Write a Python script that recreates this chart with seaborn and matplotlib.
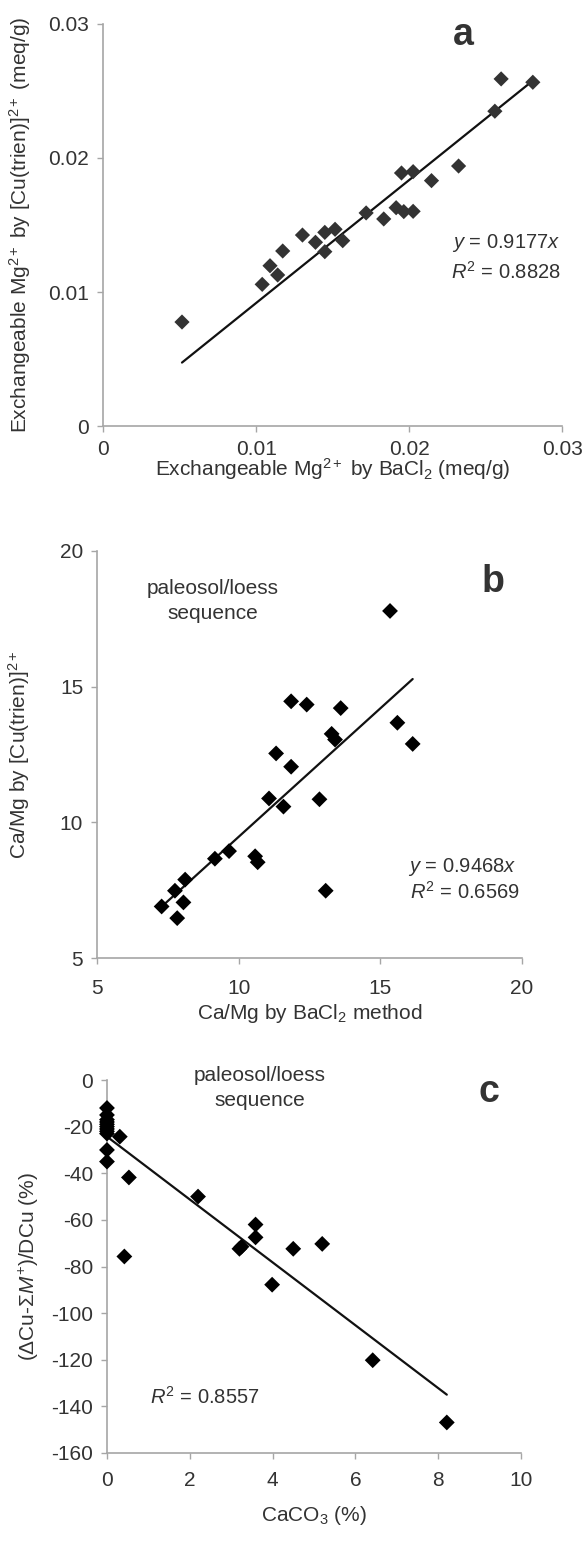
import numpy as np
import pandas as pd
import matplotlib
matplotlib.use("Agg")
import matplotlib.pyplot as plt
import seaborn as sns

# ---------------- data ----------------
a_x = [0.00516, 0.0104, 0.01091, 0.01141, 0.01174, 0.01303, 0.01388, 0.01449, 0.01449,
       0.01516, 0.01566, 0.01719, 0.01834, 0.01915, 0.0195, 0.01965, 0.02026, 0.02026,
       0.02146, 0.02323, 0.0256, 0.02601, 0.02808]
a_y = [0.00776, 0.01057, 0.01196, 0.01127, 0.01306, 0.01425, 0.01371, 0.01445, 0.01301,
       0.01468, 0.01383, 0.0159, 0.01545, 0.01629, 0.01888, 0.016, 0.01898, 0.01602,
       0.01831, 0.0194, 0.02349, 0.0259, 0.02565]
a_slope = 0.9177
a_r2 = 0.8828

b_x = [15.34, 11.85, 12.40, 13.6, 15.6, 16.14, 13.28, 13.4, 11.32, 11.85, 11.07, 11.58,
       12.85, 13.07, 10.58, 10.67, 9.66, 9.16, 8.11, 7.75, 8.05, 7.28, 7.83]
b_y = [17.79, 14.46, 14.34, 14.21, 13.67, 12.89, 13.26, 13.05, 12.54, 12.05, 10.88, 10.58,
       10.85, 7.48, 8.75, 8.53, 8.94, 8.66, 7.89, 7.48, 7.05, 6.9, 6.47]
b_slope = 0.9468
b_r2 = 0.6569

c_x = [0, 0, 0, 0, 0, 0, 0, 0, 0, 0, 0,
       0.31, 0.53, 0.42, 2.2, 3.2, 3.25, 3.59, 3.59, 4.5, 5.2, 3.99, 6.42, 8.21]
c_y = [-12, -15, -17, -18, -19, -20, -21, -22, -23, -30, -35,
       -24.3, -41.8, -75.7, -50, -72.4, -71.5, -62, -67.5, -72.4, -70.3, -87.8, -120.2, -146.9]
c_r2 = 0.8557

a_ticks = [0, 0.01, 0.02, 0.03]
a_ticklabels = ["0", "0.01", "0.02", "0.03"]
b_ticks = [5, 10, 15, 20]
b_ticklabels = ["5", "10", "15", "20"]
c_xticks = [0, 2, 4, 6, 8, 10]
c_xticklabels = ["0", "2", "4", "6", "8", "10"]
c_yticks = [0, -20, -40, -60, -80, -100, -120, -140, -160]
c_yticklabels = ["0", "-20", "-40", "-60", "-80", "-100", "-120", "-140", "-160"]

# ---------------- style ----------------
sns.set_style("white")
plt.rcParams['font.family'] = ['Liberation Sans', 'DejaVu Sans']
plt.rcParams['mathtext.fontset'] = 'custom'
plt.rcParams['mathtext.rm'] = 'Liberation Sans'
plt.rcParams['mathtext.it'] = 'Liberation Sans:italic'
plt.rcParams['mathtext.bf'] = 'Liberation Sans:bold'

TXT = "#333333"
AX = "#a6a6a6"
FS = 15
AFS = 14.5
LFS = 27

fig = plt.figure(figsize=(5.82, 15.56), dpi=100)
ax_a = fig.add_axes([0.177, 0.7262, 0.789, 0.2584])
ax_b = fig.add_axes([0.1667, 0.3843, 0.7303, 0.2616])
ax_c = fig.add_axes([0.1838, 0.0662, 0.7112, 0.2397])


def style(ax, xpad=6):
    for s in ["top", "right"]:
        ax.spines[s].set_visible(False)
    for s in ["left", "bottom"]:
        ax.spines[s].set_color(AX)
        ax.spines[s].set_linewidth(1.2)
    ax.tick_params(axis="both", direction="out", length=4, width=1.0, color=AX,
                   labelsize=FS, labelcolor=TXT, pad=6, left=True, bottom=True)
    ax.tick_params(axis="x", pad=xpad)
    ax.grid(False)


# ---- panel a ----
df_a = pd.DataFrame({"x": a_x, "y": a_y})
sns.scatterplot(data=df_a, x="x", y="y", marker="D", s=60, color="#333333",
                edgecolor="none", ax=ax_a, zorder=3)
xa = np.array([min(a_x), max(a_x)])
sns.lineplot(x=xa, y=a_slope * xa, color="#111111", linewidth=1.6, ax=ax_a, zorder=2)
ax_a.set_xlim(0, 0.03)
ax_a.set_ylim(0, 0.03)
ax_a.set_xticks(a_ticks, a_ticklabels)
ax_a.set_yticks(a_ticks, a_ticklabels)
style(ax_a)
ax_a.set_xlabel(r"Exchangeable Mg$^{2+}$ by BaCl$_{2}$ (meq/g)", fontsize=FS, color=TXT, labelpad=-2)
ax_a.set_ylabel(r"Exchangeable Mg$^{2+}$ by [Cu(trien)]$^{2+}$ (meq/g)", fontsize=FS, color=TXT, labelpad=11)
ax_a.text(0.784, 0.973, "a", transform=ax_a.transAxes, fontsize=LFS, fontweight="bold",
          color=TXT, ha="center", va="center")
ax_a.text(0.877, 0.455, r"$\mathit{y}$ = %.4f$\mathit{x}$" % a_slope, transform=ax_a.transAxes,
          fontsize=AFS, color=TXT, ha="center", va="center")
ax_a.text(0.877, 0.383, r"$\mathit{R}^{2}$ = %.4f" % a_r2, transform=ax_a.transAxes,
          fontsize=AFS, color=TXT, ha="center", va="center")

# ---- panel b ----
df_b = pd.DataFrame({"x": b_x, "y": b_y})
sns.scatterplot(data=df_b, x="x", y="y", marker="D", s=65, color="black",
                edgecolor="none", ax=ax_b, zorder=3)
xb = np.array([min(b_x), max(b_x)])
sns.lineplot(x=xb, y=b_slope * xb, color="#111111", linewidth=1.6, ax=ax_b, zorder=2)
ax_b.set_xlim(5, 20)
ax_b.set_ylim(5, 20)
ax_b.set_xticks(b_ticks, b_ticklabels)
ax_b.set_yticks(b_ticks, b_ticklabels)
style(ax_b, xpad=11)
ax_b.set_xlabel(r"Ca/Mg by BaCl$_{2}$ method", fontsize=FS, color=TXT, labelpad=3)
ax_b.set_ylabel(r"Ca/Mg by [Cu(trien)]$^{2+}$", fontsize=FS, color=TXT, labelpad=20)
ax_b.text(0.932, 0.924, "b", transform=ax_b.transAxes, fontsize=LFS, fontweight="bold",
          color=TXT, ha="center", va="center")
ax_b.text(0.273, 0.876, "paleosol/loess\nsequence", transform=ax_b.transAxes,
          fontsize=FS, color=TXT, ha="center", va="center", linespacing=1.4)
ax_b.text(0.86, 0.224, r"$\mathit{y}$ = %.4f$\mathit{x}$" % b_slope, transform=ax_b.transAxes,
          fontsize=AFS, color=TXT, ha="center", va="center")
ax_b.text(0.866, 0.162, r"$\mathit{R}^{2}$ = %.4f" % b_r2, transform=ax_b.transAxes,
          fontsize=AFS, color=TXT, ha="center", va="center")

# ---- panel c ----
df_c = pd.DataFrame({"x": c_x, "y": c_y})
sns.regplot(data=df_c, x="x", y="y", ci=None, truncate=True, ax=ax_c, marker="D",
            scatter_kws=dict(s=65, color="black", edgecolor="none", alpha=1.0,
                             zorder=3, clip_on=False),
            line_kws=dict(color="#111111", linewidth=1.6, zorder=2))
ax_c.set_xlim(0, 10)
ax_c.set_ylim(-160, 0)
ax_c.set_xticks(c_xticks, c_xticklabels)
ax_c.set_yticks(c_yticks, c_yticklabels)
style(ax_c, xpad=9)
ax_c.set_xlabel(r"CaCO$_{3}$ (%)", fontsize=FS, color=TXT, labelpad=10)
ax_c.set_ylabel(r"(ΔCu-Σ$\mathit{M}^{+}$)/DCu (%)", fontsize=FS, color=TXT, labelpad=7)
ax_c.text(0.923, 0.969, "c", transform=ax_c.transAxes, fontsize=LFS, fontweight="bold",
          color=TXT, ha="center", va="center")
ax_c.text(0.37, 0.978, "paleosol/loess\nsequence", transform=ax_c.transAxes,
          fontsize=FS, color=TXT, ha="center", va="center", linespacing=1.4)
ax_c.text(0.237, 0.151, r"$\mathit{R}^{2}$ = %.4f" % c_r2, transform=ax_c.transAxes,
          fontsize=AFS, color=TXT, ha="center", va="center")

fig.savefig("out.png", dpi=100, facecolor="white")
